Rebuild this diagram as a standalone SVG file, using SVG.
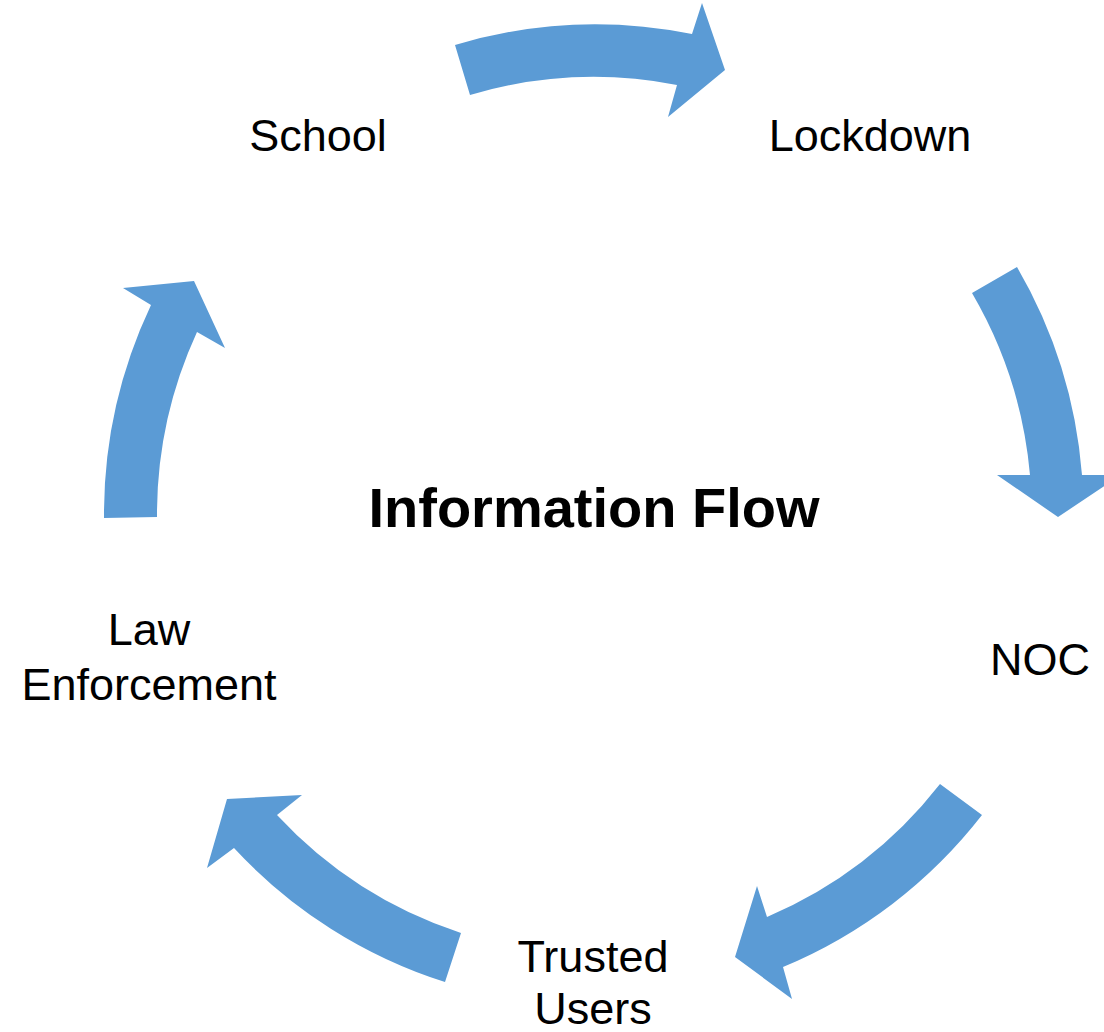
<svg xmlns="http://www.w3.org/2000/svg" width="1104" height="1032" viewBox="0 0 1104 1032">
<style>
.arrow{fill:#5B9BD5;stroke:none}
.lbl{font-family:"Liberation Sans",Arial,sans-serif;font-size:45px;fill:#000;text-anchor:middle}
.title{font-family:"Liberation Sans",Arial,sans-serif;font-size:56px;font-weight:bold;fill:#000;text-anchor:middle}
</style>
<rect width="1104" height="1032" fill="#fff"/>
<g id="connectors">
<path class="arrow" d="M455,45 A490,490 0 0 1 692,34 L702,3 L725,70 L668,117 L677,85 A437,437 0 0 0 470,95 Z"/>
<path class="arrow" d="M1017,267 A490,490 0 0 1 1082,475 L1121,475 L1058,517 L997,475 L1030,475 A437,437 0 0 0 972,293 Z"/>
<path class="arrow" d="M982,815 A490,490 0 0 1 783,967 L792,999 L735,957 L757,886 L767,917 A437,437 0 0 0 940,784 Z"/>
<path class="arrow" d="M445,982 A490,490 0 0 1 234,848 L207,868 L227,799 L302,795 L277,815 A437,437 0 0 0 461,933 Z"/>
<path class="arrow" d="M104,518 A490,490 0 0 1 151,305 L123,288 L194,281 L225,348 L197,332 A437,437 0 0 0 157,517 Z"/>
</g>
<g id="title"><text class="title" x="594" y="527">Information Flow</text></g>
<g id="school"><text class="lbl" x="318" y="151">School</text></g>
<g id="lockdown"><text class="lbl" x="870" y="151">Lockdown</text></g>
<g id="noc"><text class="lbl" x="1040" y="675">NOC</text></g>
<g id="trusted-users"><text class="lbl" x="593" y="972">Trusted</text><text class="lbl" x="593" y="1024">Users</text></g>
<g id="law-enforcement"><text class="lbl" x="149" y="645">Law</text><text class="lbl" x="149" y="700">Enforcement</text></g>
</svg>
